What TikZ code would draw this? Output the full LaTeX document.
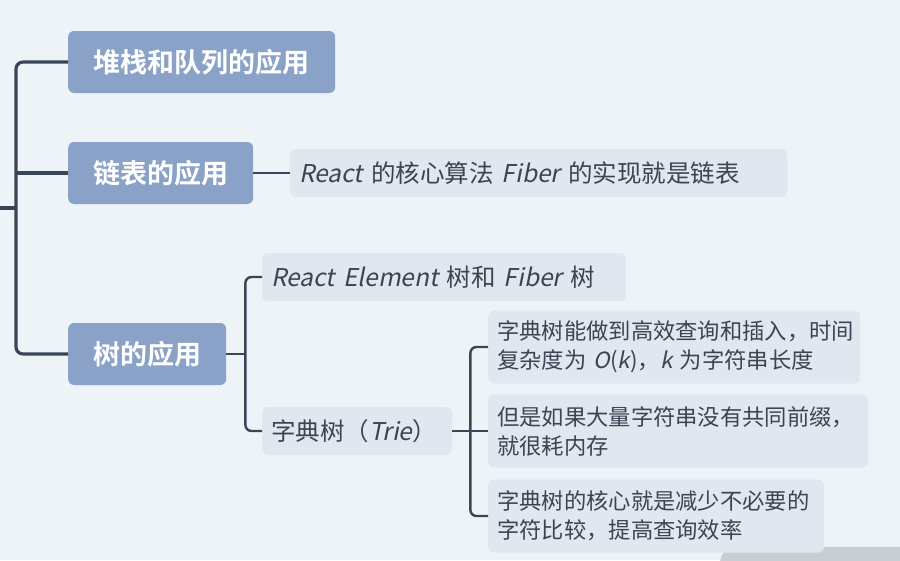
\documentclass[tikz,border=0pt]{standalone}
\usepackage{fontspec}
\setmainfont{Noto Sans CJK SC}[BoldFont={Noto Sans CJK SC Bold},AutoFakeSlant=0.2]
\usepackage{tikz}
\usetikzlibrary{calc}

\definecolor{bgcol}{HTML}{EDF3F7}
\definecolor{topicfill}{HTML}{8AA2C7}
\definecolor{leaffill}{HTML}{E1E7EF}
\definecolor{leaftext}{HTML}{3C4352}
\definecolor{linecol}{HTML}{3A4558}
\definecolor{shadecol}{HTML}{C9CED3}

\tikzstyle{topic} = [rectangle, rounded corners=6pt, fill=topicfill, text=white,
  font=\fontsize{27}{30}\selectfont\bfseries, minimum height=62pt, anchor=west]
\tikzstyle{leaf} = [rectangle, rounded corners=6pt, fill=leaffill, text=leaftext,
  align=left, inner xsep=9pt, anchor=west]
\tikzstyle{trunk} = [line width=3.2pt, draw=linecol, rounded corners=7pt]
\tikzstyle{branch} = [line width=2.4pt, draw=linecol, rounded corners=6pt]

\begin{document}
\begin{tikzpicture}[x=1pt, y=-1pt]
  \fill[bgcol] (0,0) rectangle (900,560);
  \useasboundingbox (0,0) rectangle (900,560);

  % shaded panel at the lower edge
  \begin{scope}
    \clip (0,0) rectangle (900,560);
    \fill[shadecol, rounded corners=16pt] (720,547) rectangle (960,620);
  \end{scope}

  % main topics
  \node[topic, minimum width=267pt] (stack) at (68,62) {堆栈和队列的应用};
  \node[topic, minimum width=185pt] (list) at (68,173) {链表的应用};
  \node[topic, minimum width=158pt] (tree) at (68,354) {树的应用};

  % root trunk
  \coordinate (root) at (0,208);
  \coordinate (rootbus) at (16,208);
  \draw[trunk] (root) -- (rootbus);
  \draw[trunk] (stack.west) -| (rootbus) |- (tree.west);
  \draw[trunk] (rootbus |- list.west) -- (list.west);

  % linked list
  \node[leaf, minimum height=48pt, text width=479pt, font=\fontsize{24.5}{28}\selectfont]
    (fiber) at (290,173) {\textit{React} 的核心算法 \textit{Fiber} 的实现就是链表};
  \draw[branch] (list.east) -- (fiber.west);

  % tree
  \node[leaf, minimum height=48pt, text width=346pt, font=\fontsize{24.5}{28}\selectfont]
    (elem) at (262,277) {\textit{React Element} 树和 \textit{Fiber} 树};
  \node[leaf, minimum height=48pt, text width=172pt, font=\fontsize{24.5}{28}\selectfont]
    (trie) at (262,431) {字典树（\textit{Trie}）};
  \draw[branch] (tree.east) -- ++(19,0) coordinate (treebus);
  \draw[branch] (elem.west) -| (treebus) |- (trie.west);

  % trie
  \node[leaf, minimum height=73pt, text width=354pt, font=\fontsize{22.3}{29}\selectfont]
    (triea) at (488,347) {字典树能做到高效查询和插入，时间\\复杂度为 \textit{O}(\textit{k})，\textit{k} 为字符串长度};
  \node[leaf, minimum height=73pt, text width=362pt, font=\fontsize{22.3}{29}\selectfont]
    (trieb) at (488,431) {但是如果大量字符串没有共同前缀，\\就很耗内存};
  \node[leaf, minimum height=73pt, text width=318pt, font=\fontsize{22.3}{29}\selectfont]
    (triec) at (488,516) {字典树的核心就是减少不必要的\\字符比较，提高查询效率};
  \draw[branch] (trie.east) -- ++(18,0) coordinate (triebus);
  \draw[branch] (triea.west) -| (triebus) |- (triec.west);
  \draw[branch] (triebus |- trieb.west) -- (trieb.west);
\end{tikzpicture}
\end{document}
